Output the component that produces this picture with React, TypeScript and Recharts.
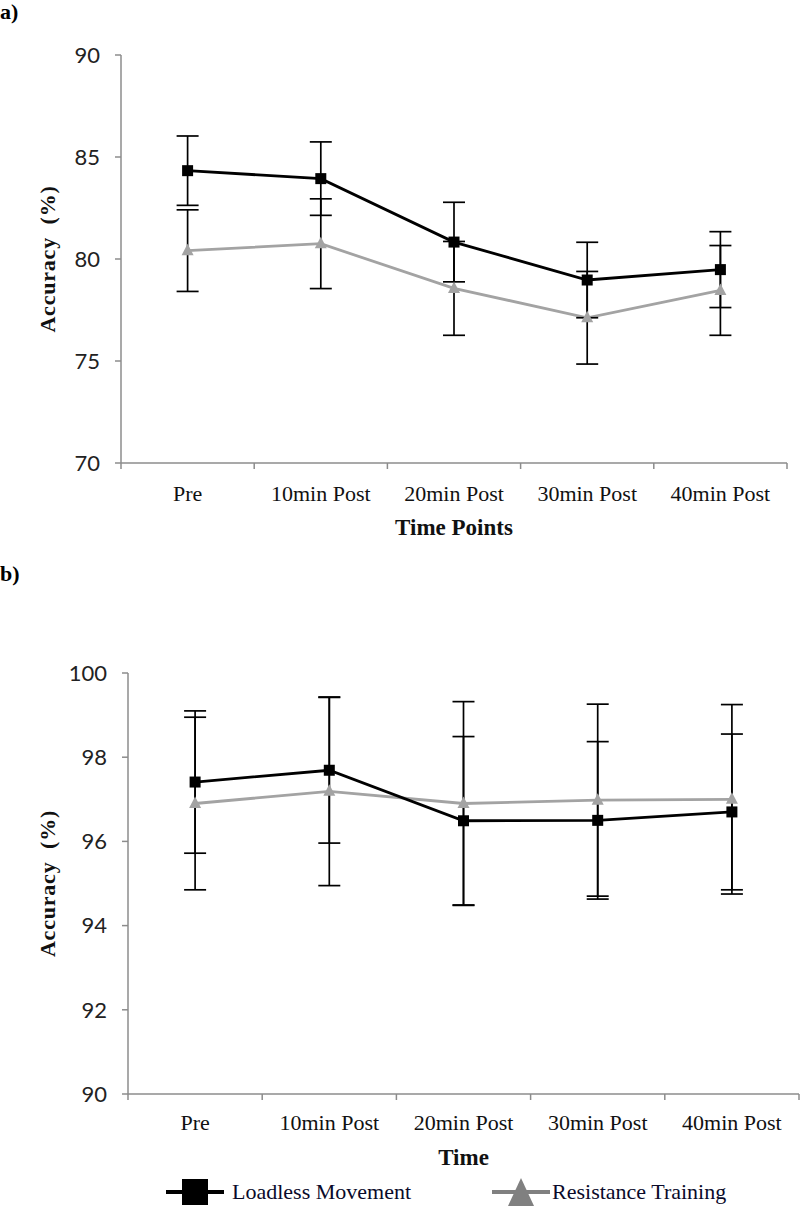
import React from 'react';
import { LineChart, Line, XAxis, YAxis, ErrorBar, Label } from 'recharts';

// time points shared by both panels
const timePoints = ['Pre', '10min Post', '20min Post', '30min Post', '40min Post'];

// panel a) values
const aLoadless = [84.33, 83.94, 80.83, 78.97, 79.48];
const aLoadlessErr = [1.7, 1.8, 1.95, 1.85, 1.86];
const aResistance = [80.41, 80.75, 78.56, 77.12, 78.46];
const aResistanceErr = [2.0, 2.2, 2.3, 2.27, 2.2];
const aTicks = [70, 75, 80, 85, 90];

// panel b)
const bLoadless = [97.41, 97.69, 96.49, 96.5, 96.7];
const bLoadlessErr = [1.69, 1.73, 2.0, 1.87, 1.85];
const bResistance = [96.9, 97.19, 96.9, 96.98, 97.0];
const bResistanceErr = [2.05, 2.24, 2.42, 2.28, 2.25];
const bTicks = [90, 92, 94, 96, 98, 100];

const catTicks = [0, 1, 2, 3, 4, 5];

const AXIS = '#8c8c8c';
const GRAY = '#a3a3a3';
const SERIF = '"Liberation Serif", "Times New Roman", serif';
const SANS = 'Lato, "Noto Sans", sans-serif';

function buildRows(lm: number[], lmErr: number[], rt: number[], rtErr: number[]) {
  return timePoints.map((name, i) => ({
    name,
    x: i + 0.5,
    lm: lm[i],
    lmErr: lmErr[i],
    rt: rt[i],
    rtErr: rtErr[i],
  }));
}

const rowsA = buildRows(aLoadless, aLoadlessErr, aResistance, aResistanceErr);
const rowsB = buildRows(bLoadless, bLoadlessErr, bResistance, bResistanceErr);

function SquareDot(props: any) {
  const { cx, cy } = props;
  if (cx == null || cy == null) return null;
  return <rect x={cx - 5.5} y={cy - 5.5} width={11} height={11} fill="#000" />;
}

function TriangleDot(props: any) {
  const { cx, cy } = props;
  if (cx == null || cy == null) return null;
  return (
    <polygon
      points={`${cx},${cy - 7} ${cx - 6},${cy + 4.5} ${cx + 6},${cy + 4.5}`}
      fill={GRAY}
    />
  );
}

// labels sit between the category ticks
function makeXTick(band: number, dy: number) {
  return function XTick(props: any) {
    const { x, y, payload } = props;
    if (payload.value >= timePoints.length) return null;
    return (
      <text
        x={x + band / 2}
        y={y + dy}
        textAnchor="middle"
        dominantBaseline="central"
        fontFamily={SERIF}
        fontSize={22}
        fill="#111"
      >
        {timePoints[payload.value]}
      </text>
    );
  };
}

function YTitle(props: any) {
  const vb = props.viewBox;
  const cx = 47;
  const cy = vb.y + vb.height / 2;
  return (
    <text
      x={cx}
      y={cy}
      transform={`rotate(-90 ${cx} ${cy})`}
      textAnchor="middle"
      dominantBaseline="central"
      fontFamily={SERIF}
      fontWeight="bold"
      fontSize={22}
      letterSpacing={0.8}
      fill="#111"
      style={{ whiteSpace: 'pre' }}
    >
      {'Accuracy  (%)'}
    </text>
  );
}

function XTitle(text: string, dy: number) {
  return function T(props: any) {
    const vb = props.viewBox;
    return (
      <text
        x={vb.x + vb.width / 2}
        y={vb.y + dy}
        textAnchor="middle"
        dominantBaseline="central"
        fontFamily={SERIF}
        fontWeight="bold"
        fontSize={23}
        fill="#111"
      >
        {text}
      </text>
    );
  };
}

function Panel({
  rows,
  top,
  height,
  margin,
  domain,
  ticks,
  band,
  tickDy,
  title,
  titleDy,
}: any) {
  return (
    <div style={{ position: 'absolute', left: 0, top }}>
      <LineChart width={800} height={height} data={rows} margin={margin}>
        <XAxis
          type="number"
          dataKey="x"
          domain={[0, 5]}
          ticks={catTicks}
          interval={0}
          height={80}
          axisLine={{ stroke: AXIS, strokeWidth: 1.5 }}
          tickLine={{ stroke: AXIS, strokeWidth: 1.5 }}
          tickSize={6}
          tick={makeXTick(band, tickDy)}
        >
          <Label content={XTitle(title, titleDy)} />
        </XAxis>
        <YAxis
          domain={domain}
          ticks={ticks}
          interval={0}
          width={61}
          axisLine={{ stroke: AXIS, strokeWidth: 1.5 }}
          tickLine={{ stroke: AXIS, strokeWidth: 1.5 }}
          tickSize={6}
          tickMargin={15}
          tick={{ fill: '#222', fontSize: 22, fontFamily: SANS }}
        >
          <Label content={YTitle} />
        </YAxis>
        <Line
          type="linear"
          dataKey="rt"
          stroke={GRAY}
          strokeWidth={2.8}
          dot={<TriangleDot />}
          activeDot={false}
          isAnimationActive={false}
        >
          <ErrorBar dataKey="rtErr" width={11} stroke="#000" strokeWidth={1.7} direction="y" />
        </Line>
        <Line
          type="linear"
          dataKey="lm"
          stroke="#000"
          strokeWidth={2.8}
          dot={<SquareDot />}
          activeDot={false}
          isAnimationActive={false}
        >
          <ErrorBar dataKey="lmErr" width={11} stroke="#000" strokeWidth={1.7} direction="y" />
        </Line>
      </LineChart>
    </div>
  );
}

function LegendKey({ kind }: { kind: 'square' | 'triangle' }) {
  const color = kind === 'square' ? '#000' : '#808080';
  return (
    <svg width={58} height={28} style={{ display: 'block' }}>
      <line x1={0} y1={14} x2={58} y2={14} stroke={color} strokeWidth={4} />
      {kind === 'square' ? (
        <rect x={16} y={1} width={26} height={26} fill={color} />
      ) : (
        <polygon points="29,0 16,28 42,28" fill={color} />
      )}
    </svg>
  );
}

export default function App() {
  return (
    <div style={{ position: 'absolute', left: 0, top: 0, width: 800, height: 1207, background: '#fff' }}>
      <div style={{ position: 'absolute', left: 0, top: 0, fontFamily: SERIF, fontWeight: 'bold', fontSize: 22, lineHeight: '24px' }}>
        a)
      </div>
      <Panel
        rows={rowsA}
        top={0}
        height={560}
        margin={{ top: 55, right: 13, bottom: 17, left: 60 }}
        domain={[70, 90]}
        ticks={aTicks}
        band={(787 - 121) / 5}
        tickDy={22}
        title="Time Points"
        titleDy={64}
      />
      <div style={{ position: 'absolute', left: 0, top: 562, fontFamily: SERIF, fontWeight: 'bold', fontSize: 22, lineHeight: '24px' }}>
        b)
      </div>
      <Panel
        rows={rowsB}
        top={600}
        height={607}
        margin={{ top: 73, right: 1, bottom: 33, left: 67 }}
        domain={[90, 100]}
        ticks={bTicks}
        band={(799 - 128) / 5}
        tickDy={20}
        title="Time"
        titleDy={63}
      />
      <div
        style={{
          position: 'absolute',
          left: 166,
          top: 1178,
          display: 'flex',
          alignItems: 'center',
          gap: 81,
          fontFamily: SERIF,
          fontSize: 22,
          color: '#0a0a2a',
        }}
      >
        <div style={{ display: 'flex', alignItems: 'center', gap: 8 }}>
          <LegendKey kind="square" />
          <span>Loadless Movement</span>
        </div>
        <div style={{ display: 'flex', alignItems: 'center', gap: 2 }}>
          <LegendKey kind="triangle" />
          <span>Resistance Training</span>
        </div>
      </div>
    </div>
  );
}
